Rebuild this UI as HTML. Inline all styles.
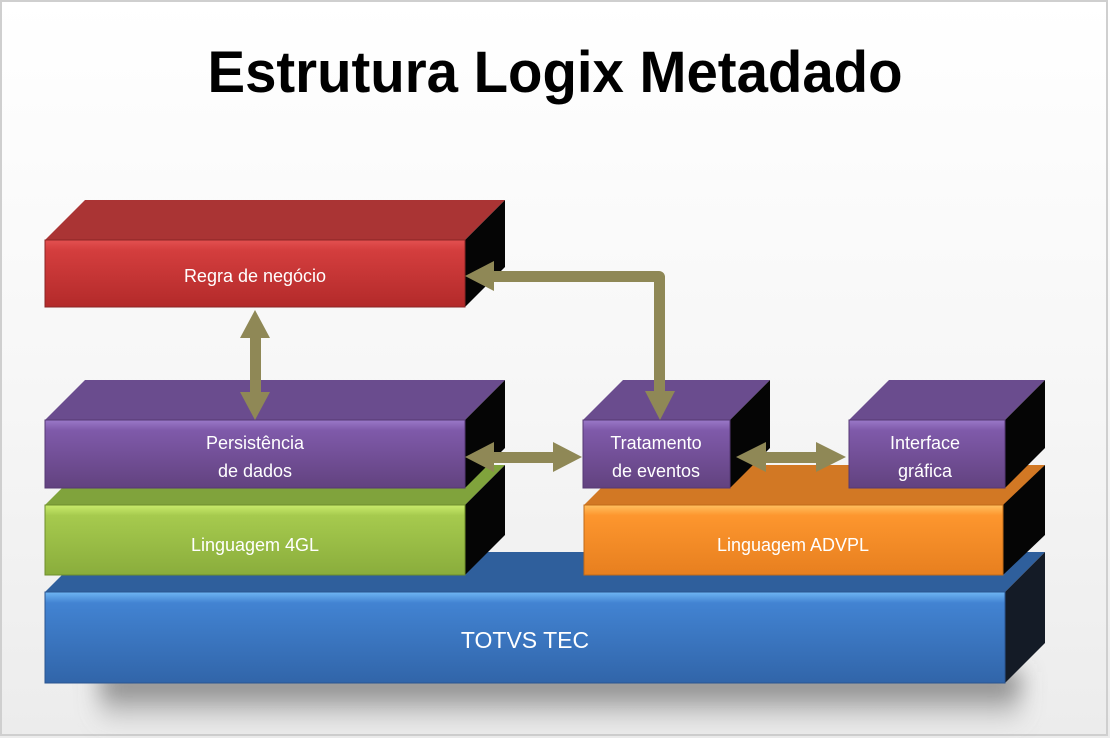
<!DOCTYPE html>
<html><head><meta charset="utf-8"><style>
html,body{margin:0;padding:0;width:1110px;height:738px;overflow:hidden;background:#fff}
svg{display:block}
text{font-family:"Liberation Sans",sans-serif}
</style></head><body>
<svg width="1110" height="738" viewBox="0 0 1110 738" xmlns="http://www.w3.org/2000/svg">
<defs>
<linearGradient id="bg" x1="0" y1="0" x2="0" y2="1">
<stop offset="0" stop-color="#ffffff"/><stop offset="0.5" stop-color="#f7f7f7"/><stop offset="1" stop-color="#ececec"/></linearGradient>
<linearGradient id="shv" x1="0" y1="0" x2="0" y2="1">
<stop offset="0" stop-color="#555" stop-opacity="0.95"/><stop offset="1" stop-color="#888" stop-opacity="0.1"/></linearGradient>
<filter id="blur" x="-10%" y="-50%" width="120%" height="200%"><feGaussianBlur stdDeviation="12"/></filter>
<linearGradient id="red" x1="0" y1="0" x2="0" y2="1"><stop offset="0" stop-color="#e35050"/><stop offset="0.15" stop-color="#d43e3e"/><stop offset="1" stop-color="#b32a2a"/></linearGradient>
<linearGradient id="pur" x1="0" y1="0" x2="0" y2="1"><stop offset="0" stop-color="#9a78c8"/><stop offset="0.15" stop-color="#7f5aaa"/><stop offset="1" stop-color="#62427f"/></linearGradient>
<linearGradient id="grn" x1="0" y1="0" x2="0" y2="1"><stop offset="0" stop-color="#c9ec6c"/><stop offset="0.15" stop-color="#a6ca4e"/><stop offset="1" stop-color="#8aad3c"/></linearGradient>
<linearGradient id="org" x1="0" y1="0" x2="0" y2="1"><stop offset="0" stop-color="#ffc060"/><stop offset="0.15" stop-color="#fd962e"/><stop offset="1" stop-color="#e77f1f"/></linearGradient>
<linearGradient id="blu" x1="0" y1="0" x2="0" y2="1"><stop offset="0" stop-color="#6fb6f3"/><stop offset="0.12" stop-color="#4283d2"/><stop offset="1" stop-color="#3165a9"/></linearGradient>
</defs>
<rect x="0" y="0" width="1110" height="738" fill="url(#bg)"/>
<rect x="1" y="1" width="1106" height="734" fill="none" stroke="#cfcfcf" stroke-width="2"/>
<text x="555" y="92" text-anchor="middle" font-size="58" font-weight="bold" fill="#000" textLength="695" lengthAdjust="spacingAndGlyphs">Estrutura Logix Metadado</text>

<rect x="100" y="672" width="920" height="50" fill="url(#shv)" filter="url(#blur)"/>

<!-- Blue -->
<polygon points="45,592 85,552 1045,552 1005,592" fill="#2f5f9c"/>
<polygon points="1005,592 1045,552 1045,643 1005,683" fill="#141b26"/>
<rect x="45" y="592" width="960" height="91" fill="url(#blu)" stroke="#2a5590" stroke-width="1"/>
<text x="525" y="648" text-anchor="middle" font-size="23" fill="#fff">TOTVS TEC</text>

<!-- Green -->
<polygon points="45,505 85,465 505,465 465,505" fill="#80a33c"/>
<polygon points="465,505 505,465 505,535 465,575" fill="#050505"/>
<rect x="45" y="505" width="420" height="70" fill="url(#grn)" stroke="#6e8e2c" stroke-width="1"/>
<text x="255" y="551" text-anchor="middle" font-size="18" fill="#fff">Linguagem 4GL</text>

<!-- Orange -->
<polygon points="584,505 624,465 1045,465 1005,505" fill="#d27824"/>
<polygon points="1003,505 1045,465 1045,535 1003,575" fill="#050505"/>
<rect x="584" y="505" width="419" height="70" fill="url(#org)" stroke="#c06a18" stroke-width="1"/>
<text x="793" y="551" text-anchor="middle" font-size="18" fill="#fff">Linguagem ADVPL</text>

<!-- Red -->
<polygon points="45,240 85,200 505,200 465,240" fill="#aa3434"/>
<polygon points="465,240 505,200 505,267 465,307" fill="#050505"/>
<rect x="45" y="240" width="420" height="67" fill="url(#red)" stroke="#8a2525" stroke-width="1"/>
<text x="255" y="282" text-anchor="middle" font-size="18" fill="#fff">Regra de negócio</text>

<!-- Persistencia -->
<polygon points="45,420 85,380 505,380 465,420" fill="#6a4c8e"/>
<polygon points="465,420 505,380 505,448 465,488" fill="#050505"/>
<rect x="45" y="420" width="420" height="68" fill="url(#pur)" stroke="#553873" stroke-width="1"/>
<text x="255" y="449" text-anchor="middle" font-size="18" fill="#fff">Persistência</text>
<text x="255" y="477" text-anchor="middle" font-size="18" fill="#fff">de dados</text>

<!-- Tratamento -->
<polygon points="583,420 623,380 770,380 730,420" fill="#6a4c8e"/>
<polygon points="730,420 770,380 770,448 730,488" fill="#050505"/>
<rect x="583" y="420" width="147" height="68" fill="url(#pur)" stroke="#553873" stroke-width="1"/>
<text x="656" y="449" text-anchor="middle" font-size="18" fill="#fff">Tratamento</text>
<text x="656" y="477" text-anchor="middle" font-size="18" fill="#fff">de eventos</text>

<!-- Interface -->
<polygon points="849,420 889,380 1045,380 1005,420" fill="#6a4c8e"/>
<polygon points="1005,420 1045,380 1045,448 1005,488" fill="#050505"/>
<rect x="849" y="420" width="156" height="68" fill="url(#pur)" stroke="#553873" stroke-width="1"/>
<text x="925" y="449" text-anchor="middle" font-size="18" fill="#fff">Interface</text>
<text x="925" y="477" text-anchor="middle" font-size="18" fill="#fff">gráfica</text>

<!-- Arrows -->
<g fill="#8f8856">
<rect x="250" y="335" width="11" height="60"/>
<polygon points="255,310 270,338 240,338"/>
<polygon points="255,420 270,392 240,392"/>
<rect x="492" y="452" width="64" height="11"/>
<polygon points="465,457 494,442 494,472"/>
<polygon points="582,457 553,442 553,472"/>
<rect x="764" y="452" width="56" height="11"/>
<polygon points="736,457 766,442 766,472"/>
<polygon points="846,457 816,442 816,472"/>
<path d="M494,271 H659 a6,6 0 0 1 6,6 V392 H654 V282 H494 Z"/>
<polygon points="465,276 494,261 494,291"/>
<polygon points="660,420 645,391 675,391"/>
</g>
</svg>
</body></html>
